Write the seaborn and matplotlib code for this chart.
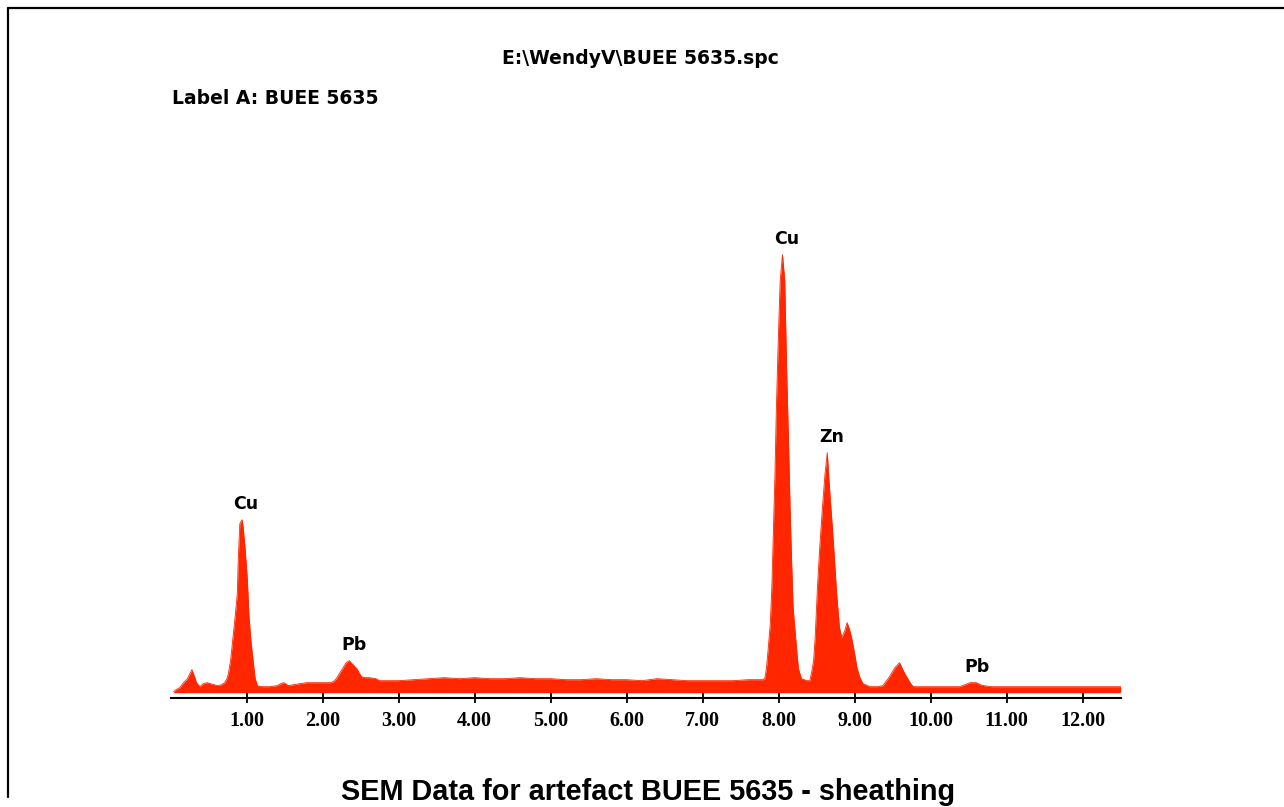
import seaborn as sns
import numpy as np
import pandas as pd
import matplotlib.pyplot as plt
from matplotlib.lines import Line2D

# Spectrum (energy in keV, counts in arbitrary units)
energy = [0.04, 0.07, 0.12, 0.17, 0.22, 0.28, 0.31, 0.34, 0.385, 0.43,
          0.48, 0.52, 0.57, 0.62, 0.67, 0.71, 0.74, 0.76, 0.79, 0.82,
          0.85, 0.877, 0.89, 0.91, 0.94, 0.955, 0.98, 1.01, 1.03, 1.06,
          1.09, 1.11, 1.14, 1.2, 1.3, 1.4, 1.45, 1.49, 1.55, 1.62,
          1.7, 1.79, 1.9, 2.0, 2.1, 2.14, 2.18, 2.22, 2.27, 2.31,
          2.35, 2.4, 2.45, 2.51, 2.56, 2.62, 2.70, 2.75, 2.85, 3.0,
          3.2, 3.4, 3.6, 3.8, 4.0, 4.2, 4.4, 4.6, 4.8, 5.0,
          5.2, 5.4, 5.6, 5.8, 6.0, 6.2, 6.4, 6.6, 6.8, 7.0,
          7.2, 7.4, 7.6, 7.8, 7.82, 7.84, 7.86, 7.89, 7.91, 7.93,
          7.95, 7.97, 7.995, 8.02, 8.05, 8.08, 8.105, 8.13, 8.15, 8.17,
          8.19, 8.23, 8.26, 8.30, 8.37, 8.41, 8.43, 8.46, 8.48, 8.51,
          8.54, 8.58, 8.61, 8.64, 8.665, 8.70, 8.73, 8.76, 8.80, 8.83,
          8.87, 8.90, 8.93, 8.96, 9.00, 9.03, 9.07, 9.11, 9.2, 9.3,
          9.37, 9.44, 9.49, 9.53, 9.59, 9.66, 9.73, 9.77, 9.85, 10.0,
          10.2, 10.38, 10.45, 10.52, 10.56, 10.60, 10.65, 10.70, 10.8, 11.0,
          11.5, 12.0, 12.5]
counts = [1, 3, 5, 10, 14, 23, 17, 10, 6, 9,
          10, 9, 8, 7, 8, 10, 14, 19, 33, 55,
          77, 99, 134, 169, 173, 165, 144, 112, 77, 49,
          29, 15, 7, 6, 6, 7, 9, 10, 7, 8,
          9, 10, 10, 10, 10, 11, 14, 19, 25, 30,
          32, 28, 24, 16, 15, 15, 14, 12, 12, 12,
          13, 14, 15, 14, 15, 14, 14, 15, 14, 14,
          13, 13, 14, 13, 13, 12, 14, 13, 12, 12,
          12, 12, 13, 13, 15, 25, 42, 69, 105, 162,
          215, 285, 354, 412, 438, 412, 322, 250, 185, 132,
          85, 49, 24, 14, 12, 12, 19, 32, 55, 105,
          145, 189, 219, 240, 209, 172, 139, 102, 65, 55,
          62, 70, 64, 55, 39, 25, 15, 9, 6, 6,
          7, 14, 20, 25, 30, 19, 10, 6, 6, 6,
          6, 6, 8, 10, 10, 10, 8, 7, 6, 6,
          6, 6, 6]
assert len(energy) == len(counts)

# Peak labels
peak_names = ["Cu", "Pb", "Cu", "Zn", "Pb"]
peak_energy = [0.99, 2.41, 8.11, 8.70, 10.61]
peak_counts = [173, 32, 438, 240, 10]

tick_values = [1, 2, 3, 4, 5, 6, 7, 8, 9, 10, 11, 12]

spec = pd.DataFrame({"keV": energy, "counts": counts})

sns.set_theme(style="white")
plt.rcParams["text.color"] = "black"
red = "#ff2600"

fig = plt.figure(figsize=(12.84, 8.07), dpi=100)
ax = fig.add_axes([0.1329, 0.1351, 0.7399, 0.6171])

ax.fill_between(spec["keV"], 0, spec["counts"], color=red, linewidth=0)
sns.lineplot(data=spec, x="keV", y="counts", ax=ax, color=red, linewidth=0.6)

for name, e, c in zip(peak_names, peak_energy, peak_counts):
    ax.text(e, c + 7, name, ha="center", va="bottom", fontsize=12.5,
            fontweight="bold", family="DejaVu Sans", color="black")

ax.set_xlim(0, 12.5)
ax.set_ylim(-5.3, 492.7)
ax.set_xlabel("")
ax.set_ylabel("")
ax.set_yticks([])
ax.set_xticks(tick_values)
ax.set_xticklabels([f"{t:.2f}" for t in tick_values])
for lab in ax.get_xticklabels():
    lab.set_family("Liberation Serif")
    lab.set_fontweight("bold")
    lab.set_fontsize(14.5)
    lab.set_color("black")
ax.tick_params(axis="x", direction="inout", length=7, width=1.3,
               color="black", pad=6, bottom=True)
for s in ["top", "left", "right"]:
    ax.spines[s].set_visible(False)
ax.spines["bottom"].set_color("black")
ax.spines["bottom"].set_linewidth(1.5)

# Frame lines of the page
W, H = 1284, 807
fig.add_artist(Line2D([8 / W, 1], [1 - 7.5 / H, 1 - 7.5 / H],
                      color="black", linewidth=1.6, transform=fig.transFigure))
fig.add_artist(Line2D([7.5 / W, 7.5 / W], [1 - 7.5 / H, 1 - 797 / H],
                      color="black", linewidth=1.6, transform=fig.transFigure))

fig.text(640 / W, 1 - 59 / H, "E:\\WendyV\\BUEE 5635.spc", ha="center",
         va="center", fontsize=13.5, fontweight="bold", family="DejaVu Sans",
         color="black")
fig.text(172 / W, 1 - 98 / H, "Label A: BUEE 5635", ha="left",
         va="center", fontsize=13.5, fontweight="bold", family="DejaVu Sans",
         color="black")
fig.text(648 / W, 1 - 800 / H, "SEM Data for artefact BUEE 5635 - sheathing",
         ha="center", va="baseline", fontsize=20.8, fontweight="bold",
         family="Liberation Sans", color="black")

fig.savefig("out.png", dpi=100)
